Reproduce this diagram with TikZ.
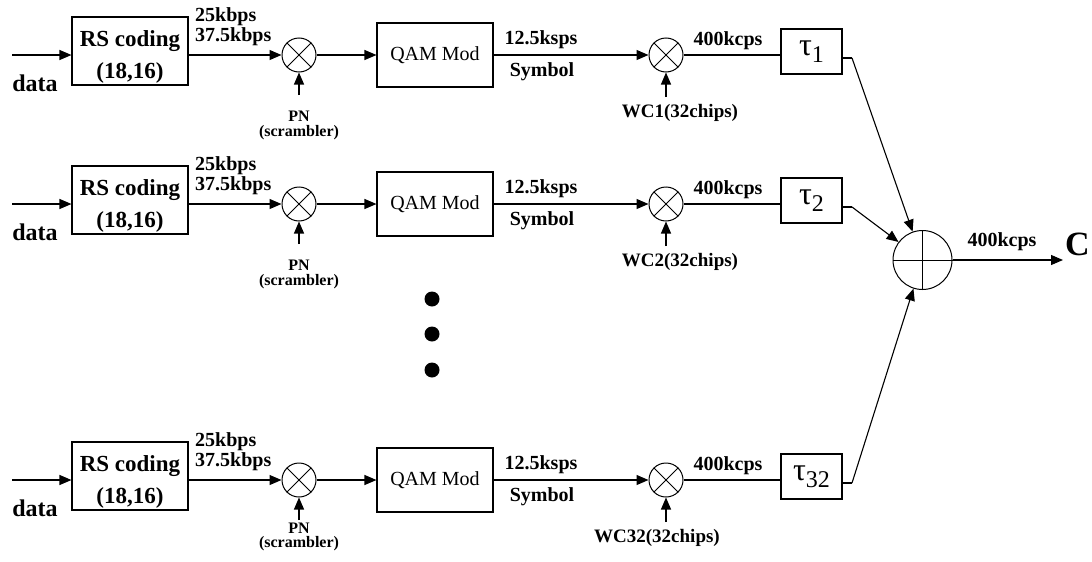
\documentclass[tikz,border=0pt]{standalone}
\usepackage{fontspec}
\setmainfont{Liberation Serif}
\usetikzlibrary{arrows.meta}
\begin{document}
\begin{tikzpicture}[x=1pt,y=-1pt,
 wire/.style={line width=1.1pt},
 arr/.style={wire,-{Triangle[length=12pt,width=10pt]}},
 rsbox/.style={draw,line width=1.1pt,minimum width=116pt,minimum height=68pt,inner sep=0pt},
 rstext/.style={inner sep=0pt,align=center,font=\fontsize{23}{32}\selectfont\bfseries},
 qambox/.style={draw,line width=1.1pt,minimum width=116pt,minimum height=64pt,inner sep=0pt,font=\fontsize{20}{24}\selectfont},
 taubox/.style={draw,line width=1.1pt,minimum width=61pt,minimum height=45pt,inner sep=0pt},
 mixer/.style={draw,circle,line width=1pt,minimum size=34pt,inner sep=0pt},
 rate/.style={inner sep=0pt,font=\fontsize{20}{22}\selectfont\bfseries},
 datalbl/.style={inner sep=0pt,font=\fontsize{24}{26}\selectfont\bfseries},
 pnlbl/.style={inner sep=0pt,font=\fontsize{16}{18}\selectfont\bfseries},
 dotmark/.style={circle,fill=black,minimum size=15pt,inner sep=0pt}]
\useasboundingbox (0,0) rectangle (1092,562);
\foreach \ry/\rn/\wc/\pa/\pb/\wx in {55/a/1/61/78/680,204/b/2/61/78/680,480/c/32/48/64/657}{
 % input
 \coordinate (in\rn) at (12,\ry);
 \node[rsbox] (rs\rn) at (130,\ry-4) {};
 \node[rstext] (rst\rn) at (130,\ry+2) {RS coding\\(18,16)};
 \draw[arr] (in\rn) -- (in\rn -| rs\rn.west);
 \node[datalbl] (d\rn) at (35,\ry+28) {data};
 % scrambler mixer
 \node[mixer] (m\rn) at (299,\ry) {};
 \draw[line width=0.8pt] (m\rn.45) -- (m\rn.225) (m\rn.135) -- (m\rn.315);
 \draw[arr] (rs\rn.east |- in\rn) -- (m\rn.west);
 \node[rate,anchor=west] (ra\rn) at (195,\ry-38) {25kbps};
 \node[rate,anchor=west] (rb\rn) at (195,\ry-18) {37.5kbps};
 \coordinate (pn\rn) at (299,\ry+40);
 \draw[arr] (pn\rn) -- (m\rn.south);
 \node[pnlbl] (pl\rn) at (299,\ry+\pa) {PN};
 \node[pnlbl] (sl\rn) at (299,\ry+\pb) {(scrambler)};
 % QAM
 \node[qambox] (q\rn) at (435,\ry) {QAM Mod};
 \draw[arr] (m\rn.east) -- (q\rn.west);
 \node[mixer] (w\rn) at (666,\ry) {};
 \draw[line width=0.8pt] (w\rn.45) -- (w\rn.225) (w\rn.135) -- (w\rn.315);
 \draw[arr] (q\rn.east) -- (w\rn.west);
 \node[rate] (sa\rn) at (541,\ry-15) {12.5ksps};
 \node[rate] (sb\rn) at (542,\ry+17) {Symbol};
 \coordinate (wc\rn) at (666,\ry+42);
 \draw[arr] (wc\rn) -- (w\rn.south);
 \node[rate,font=\fontsize{19}{21}\selectfont\bfseries] (wl\rn) at (\wx,\ry+58) {WC\wc(32chips)};
 % delay
 \node[taubox] (t\rn) at (811.5,\ry-3.5) {};
 \node[inner sep=0pt] (tl\rn) at (t\rn.center) {{\fontsize{32}{32}\selectfont τ}\raisebox{-7pt}{\fontsize{24}{24}\selectfont\wc}};
 \draw[wire] (w\rn.east) -- (w\rn.east -| t\rn.west);
 \node[rate] (cl\rn) at (728,\ry-14) {400kcps};
 \coordinate (e\rn) at (852,\ry+3);
}
% summer
\node[draw,circle,line width=1pt,minimum size=59pt,inner sep=0pt] (s) at (922.5,260) {};
\draw[line width=0.9pt] (s.north) -- (s.south) (s.west) -- (s.east);
\foreach \rn in {a,b,c}{
 \draw[wire] (t\rn.east |- e\rn) -- (e\rn);
 \draw[arr] (e\rn) -- (s);
}
\coordinate (out) at (1063,260);
\draw[arr] (s.east) -- (out);
\node[rate] (ol) at (1002,242) {400kcps};
\node[inner sep=0pt,font=\fontsize{34}{34}\selectfont\bfseries] (cc) at (1077.5,244) {C};
% dots
\node[dotmark] (p1) at (432,299) {};
\node[dotmark] (p2) at (432,334) {};
\node[dotmark] (p3) at (432,370) {};
\end{tikzpicture}
\end{document}
